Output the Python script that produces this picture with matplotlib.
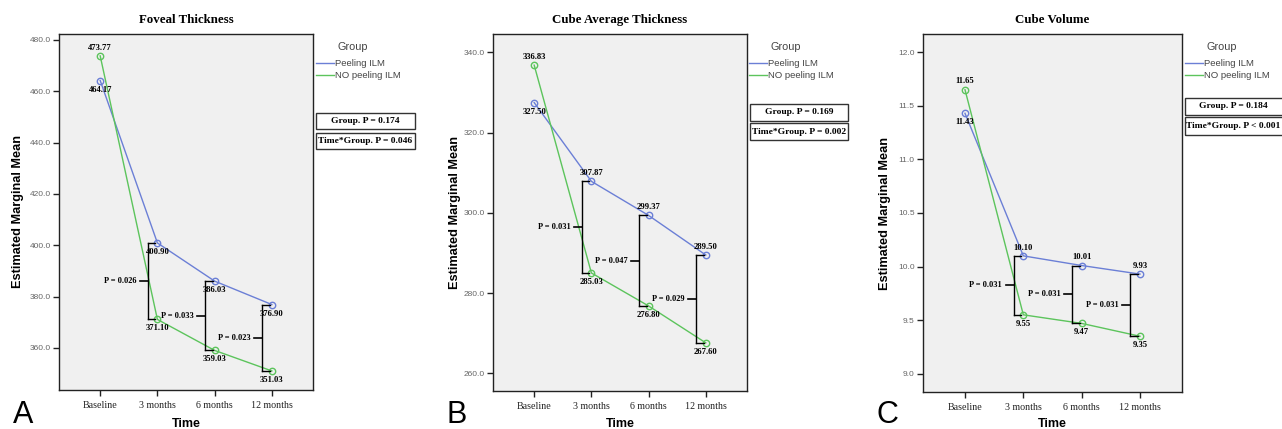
import matplotlib
matplotlib.use("Agg")
import matplotlib.pyplot as plt
from matplotlib.patches import Rectangle
from matplotlib.lines import Line2D

# ---------------- data ----------------
time_labels = ["Baseline", "3 months", "6 months", "12 months"]
group_labels = ["Peeling ILM", "NO peeling ILM"]

titles = ["Foveal Thickness", "Cube Average Thickness", "Cube Volume"]
panel_letters = ["A", "B", "C"]

foveal_peeling = [464.17, 400.90, 386.03, 376.90]
foveal_nopeel = [473.77, 371.10, 359.03, 351.03]
foveal_p = ["0.026", "0.033", "0.023"]
foveal_group_p = "P = 0.174"
foveal_inter_p = "P = 0.046"

cat_peeling = [327.50, 307.87, 299.37, 289.50]
cat_nopeel = [336.83, 285.03, 276.80, 267.60]
cat_p = ["0.031", "0.047", "0.029"]
cat_group_p = "P = 0.169"
cat_inter_p = "P = 0.002"

vol_peeling = [11.43, 10.10, 10.01, 9.93]
vol_nopeel = [11.65, 9.55, 9.47, 9.35]
vol_p = ["0.031", "0.031", "0.031"]
vol_group_p = "P = 0.184"
vol_inter_p = "P < 0.001"

foveal_yticks = [360, 380, 400, 420, 440, 460, 480]
cat_yticks = [260, 280, 300, 320, 340]
vol_yticks = [9.0, 9.5, 10.0, 10.5, 11.0, 11.5, 12.0]

# ---------------- style ----------------
W, H = 1282, 429
BLUE = "#6b7fd6"
GREEN = "#5cc45c"
SERIF = ["Liberation Serif", "DejaVu Serif"]
SANS = ["Liberation Sans", "DejaVu Sans"]

fig = plt.figure(figsize=(W / 100, H / 100), dpi=100)
fig.patch.set_facecolor("white")

# pixel boxes (left, right, top, bottom)
ax_px = [(59, 313, 34, 390), (493, 747, 34, 391), (923, 1182, 34, 392)]
ylims = [(343.6, 482.3), (255.6, 344.6), (8.83, 12.17)]
ylabel_x = [18, 455, 885]
legend_x = [316, 749, 1185]
stat_px = [(316, 415, 113, 129, 133, 149),
           (750, 848, 104, 121, 123, 140),
           (1185, 1290, 98, 115, 117, 135)]

panels = [
    (foveal_peeling, foveal_nopeel, foveal_p, foveal_group_p, foveal_inter_p, foveal_yticks, "below"),
    (cat_peeling, cat_nopeel, cat_p, cat_group_p, cat_inter_p, cat_yticks, "above"),
    (vol_peeling, vol_nopeel, vol_p, vol_group_p, vol_inter_p, vol_yticks, "above"),
]

x = list(range(len(time_labels)))

for i, (peel, nopeel, pvals, gp, ip, yticks, blue_pos) in enumerate(panels):
    l, r, t, b = ax_px[i]
    ax = fig.add_axes([l / W, 1 - b / H, (r - l) / W, (b - t) / H])
    ax.set_facecolor("#f0f0f0")
    ax.set_xlim(-0.72, 3.72)
    ax.set_ylim(*ylims[i])

    ax.plot(x, peel, color=BLUE, lw=1.0, marker="o", ms=4.6, mfc="none",
            mec=BLUE, mew=1.0, zorder=3)
    ax.plot(x, nopeel, color=GREEN, lw=1.0, marker="o", ms=4.6, mfc="none",
            mec=GREEN, mew=1.0, zorder=3)

    # value labels
    fmt = "{:.2f}"
    for k in range(4):
        dy = 6 if k == 0 else -6.5
        ax.annotate(fmt.format(nopeel[k]), (x[k], nopeel[k]), xytext=(0, dy),
                    textcoords="offset points", ha="center", va="center",
                    fontsize=6.2, fontweight="bold", family=SERIF, zorder=4)
        if k == 0 or blue_pos == "below":
            dy = -6.5
        else:
            dy = 6
        ax.annotate(fmt.format(peel[k]), (x[k], peel[k]), xytext=(0, dy),
                    textcoords="offset points", ha="center", va="center",
                    fontsize=6.2, fontweight="bold", family=SERIF, zorder=4)

    # brackets
    for k in range(1, 4):
        bx = x[k] - 0.165
        top, bot = peel[k], nopeel[k]
        mid = (top + bot) / 2
        ax.plot([bx, bx], [bot, top], color="black", lw=1.0, zorder=5)
        ax.plot([bx, bx + 0.13], [top, top], color="black", lw=1.0, zorder=5)
        ax.plot([bx, bx + 0.13], [bot, bot], color="black", lw=1.0, zorder=5)
        ax.plot([bx - 0.14, bx], [mid, mid], color="black", lw=1.2, zorder=5)
        ax.text(bx - 0.2, mid, "P = " + pvals[k - 1], ha="right", va="center",
                fontsize=6, fontweight="bold", family=SERIF, zorder=5)

    # axes styling
    for s in ax.spines.values():
        s.set_color("#222222")
        s.set_linewidth(1.0)
    ax.set_xticks(x)
    ax.set_xticklabels(time_labels, family=SERIF, fontsize=7.2, color="#222222")
    ax.set_yticks(yticks)
    ax.set_yticklabels(["{:.1f}".format(v) for v in yticks], family=SANS,
                       fontsize=6, color="#666666")
    ax.tick_params(axis="both", direction="out", length=4, width=1.0,
                   color="#222222", pad=2)
    ax.tick_params(axis="x", pad=4)
    ax.set_title(titles[i], family=SERIF, fontweight="bold", fontsize=9.3,
                 pad=8)
    ax.set_xlabel("Time", family=SANS, fontweight="bold", fontsize=9)
    ax.xaxis.label.set_va("center")
    ax.xaxis.set_label_coords(0.5, (b - 424) / (b - t))
    ax.set_ylabel("Estimated Marginal Mean", family=SANS, fontweight="bold",
                  fontsize=9.2)
    ax.yaxis.label.set_va("center")
    ax.yaxis.set_label_coords((ylabel_x[i] - l) / (r - l), 0.5)

    # legend (line handles, title drawn separately)
    handles = [Line2D([], [], color=BLUE, lw=1.0),
               Line2D([], [], color=GREEN, lw=1.0)]
    lx = legend_x[i]
    leg = fig.legend(handles, group_labels, loc="upper left",
                     bbox_to_anchor=(lx / W, 1 - 59 / H),
                     bbox_transform=fig.transFigure,
                     frameon=False, handlelength=1.9, handletextpad=0.1,
                     borderpad=0, borderaxespad=0, labelspacing=0.3,
                     prop={"family": SANS, "size": 6.8})
    for txt in leg.get_texts():
        txt.set_color("#444444")
    fig.text((lx + 37) / W, 1 - 47 / H, "Group", ha="center", va="center",
             family=SANS, fontsize=7.8, color="#444444")

    # stat boxes
    sx0, sx1, sy0, sy1, sy2, sy3 = stat_px[i]
    for (ya, yb, txt) in [(sy0, sy1, "Group. " + gp), (sy2, sy3, "Time*Group. " + ip)]:
        rect = Rectangle((sx0 / W, 1 - yb / H), (sx1 - sx0) / W, (yb - ya) / H,
                         transform=fig.transFigure, fill=False, ec="#333333",
                         lw=1.0)
        fig.patches.append(rect)
        cx = (sx0 + min(sx1, W - 1)) / 2
        fig.text(cx / W, 1 - ((ya + yb) / 2) / H, txt,
                 ha="center", va="center", fontsize=6.8, fontweight="bold",
                 family=SERIF)

    # panel letter
    fig.text((l - 46) / W, 1 - 415 / H, panel_letters[i], ha="left",
             va="center", fontsize=22, family=SANS)

fig.savefig("out.png", dpi=100)
